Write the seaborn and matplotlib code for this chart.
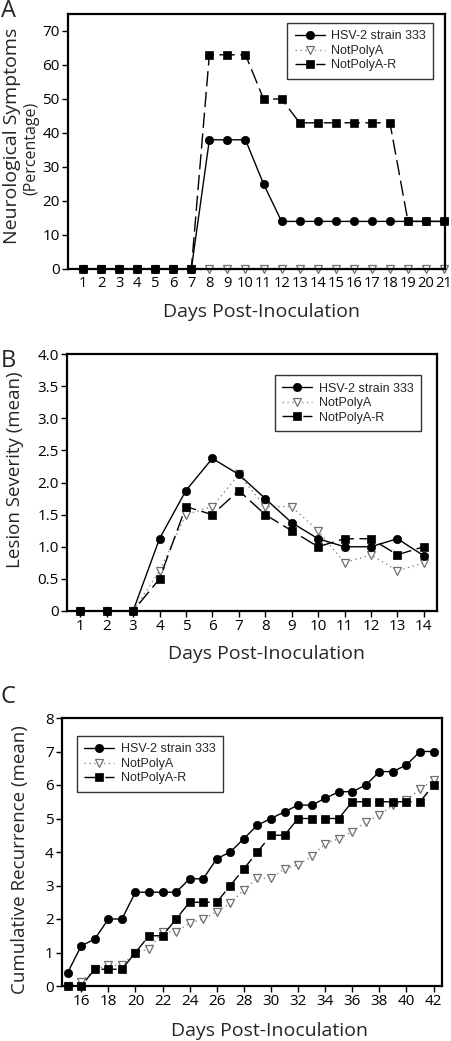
import matplotlib
matplotlib.use("Agg")
import matplotlib.pyplot as plt
import seaborn as sns

# ---- data ----
labels = ["HSV-2 strain 333", "NotPolyA", "NotPolyA-R"]

days_a = list(range(1, 22))
neuro_hsv = [0, 0, 0, 0, 0, 0, 0, 38, 38, 38, 25, 14, 14, 14, 14, 14, 14, 14, 14, 14, 14]
neuro_npa = [0] * 21
neuro_npar = [0, 0, 0, 0, 0, 0, 0, 63, 63, 63, 50, 50, 43, 43, 43, 43, 43, 43, 14, 14, 14]

days_b = list(range(1, 15))
lesion_hsv = [0, 0, 0, 1.125, 1.875, 2.375, 2.125, 1.75, 1.375, 1.125, 1.0, 1.0, 1.125, 0.86]
lesion_npa = [0, 0, 0, 0.625, 1.5, 1.625, 2.125, 1.625, 1.625, 1.25, 0.75, 0.875, 0.625, 0.75]
lesion_npar = [0, 0, 0, 0.5, 1.625, 1.5, 1.875, 1.5, 1.25, 1.0, 1.125, 1.125, 0.875, 1.0]
lesion_ticks = [0, 0.5, 1.0, 1.5, 2.0, 2.5, 3.0, 3.5, 4.0]
lesion_ticklabels = ["0", "0.5", "1.0", "1.5", "2.0", "2.5", "3.0", "3.5", "4.0"]

days_c = list(range(15, 43))
recur_hsv = [0.4, 1.2, 1.4, 2.0, 2.0, 2.8, 2.8, 2.8, 2.8, 3.2, 3.2, 3.8, 4.0, 4.4,
             4.8, 5.0, 5.2, 5.4, 5.4, 5.6, 5.8, 5.8, 6.0, 6.4, 6.4, 6.6, 7.0, 7.0]
recur_npa = [0, 0.12, 0.5, 0.62, 0.62, 1.0, 1.1, 1.62, 1.62, 1.87, 2.0, 2.22, 2.47, 2.87,
             3.22, 3.22, 3.49, 3.62, 3.87, 4.25, 4.4, 4.6, 4.9, 5.1, 5.4, 5.55, 5.87, 6.15]
recur_npar = [0, 0, 0.5, 0.5, 0.5, 1.0, 1.5, 1.5, 2.0, 2.5, 2.5, 2.5, 3.0, 3.5,
              4.0, 4.5, 4.5, 5.0, 5.0, 5.0, 5.0, 5.5, 5.5, 5.5, 5.5, 5.5, 5.5, 6.0]

sns.set_theme(style="ticks")
plt.rcParams["font.family"] = ["Open Sans", "DejaVu Sans"]

W, H = 451, 1041
fig = plt.figure(figsize=(W / 100, H / 100), dpi=100)


def box(l, t, r, b):
    return [l / W, 1 - b / H, (r - l) / W, (b - t) / H]


def draw(ax, x, hsv, npa, npar):
    sns.lineplot(x=x, y=npa, ax=ax, color="#8a8a8a", lw=1.0, linestyle=(0, (1, 2.5)),
                 marker="v", markersize=6.3, markerfacecolor="white",
                 markeredgecolor="#6e6e6e", markeredgewidth=0.9,
                 clip_on=False, errorbar=None, label=labels[1])
    sns.lineplot(x=x, y=npar, ax=ax, color="black", lw=1.0, linestyle=(0, (11, 4)),
                 marker="s", markersize=5.3, markerfacecolor="black",
                 markeredgecolor="black", markeredgewidth=0.5,
                 clip_on=False, errorbar=None, label=labels[2])
    sns.lineplot(x=x, y=hsv, ax=ax, color="black", lw=1.0,
                 marker="o", markersize=6.0, markerfacecolor="black",
                 markeredgecolor="black", markeredgewidth=0.5,
                 clip_on=False, errorbar=None, label=labels[0])
    for s in ax.spines.values():
        s.set_visible(True)
        s.set_linewidth(1.6)
        s.set_color("black")
    ax.tick_params(axis="both", direction="out", length=4, width=1, color="black",
                   labelsize=11, pad=2, labelcolor="black")
    ax.grid(False)
    ax.set_facecolor("white")
    h, l = ax.get_legend_handles_labels()
    order = [l.index(n) for n in labels]
    return [h[i] for i in order]


def legend(ax, handles, x, y):
    leg = ax.legend(handles, labels, loc="upper left", bbox_to_anchor=(x, y),
                    borderaxespad=0, frameon=True, fancybox=False, shadow=False,
                    prop={"family": "Liberation Sans", "size": 9},
                    handlelength=2.4, handletextpad=0.5, labelspacing=0.2,
                    borderpad=0.6)
    leg.get_frame().set_edgecolor("black")
    leg.get_frame().set_linewidth(1.0)


# ---- panel A ----
axA = fig.add_axes(box(68, 14, 445, 269))
hA = draw(axA, days_a, neuro_hsv, neuro_npa, neuro_npar)
axA.set_xlim(0.17, 21.05)
axA.set_ylim(0, 75)
axA.set_xticks(days_a)
axA.set_yticks(range(0, 71, 10))
axA.tick_params(axis="x", length=0, pad=5, labelsize=10.6)
axA.set_xlabel("Days Post-Inoculation", fontsize=14)
axA.xaxis.set_label_coords(0.512, -0.133)
axA.xaxis.label.set_va("top")
axA.set_ylabel("")
legend(axA, hA, 0.581, 0.965)
fig.text(12 / W, 1 - 136 / H, "Neurological Symptoms", rotation=90,
         ha="center", va="center", fontsize=14)
fig.text(31 / W, 1 - 148 / H, "(Percentage)", rotation=90,
         ha="center", va="center", fontsize=11.5)
fig.text(1 / W, 1 - 11 / H, "A", ha="left", va="center", fontsize=17)

# ---- panel B ----
axB = fig.add_axes(box(67, 354, 437, 611))
hB = draw(axB, days_b, lesion_hsv, lesion_npa, lesion_npar)
axB.set_xlim(0.5, 14.5)
axB.set_ylim(0, 4.0)
axB.set_xticks(days_b)
axB.set_yticks(lesion_ticks)
axB.set_yticklabels(lesion_ticklabels)
axB.set_xlabel("Days Post-Inoculation", fontsize=14)
axB.xaxis.set_label_coords(0.538, -0.132)
axB.xaxis.label.set_va("top")
axB.set_ylabel("")
legend(axB, hB, 0.562, 0.918)
fig.text(15 / W, 1 - 470 / H, "Lesion Severity (mean)", rotation=90,
         ha="center", va="center", fontsize=13.5)
fig.text(1 / W, 1 - 361 / H, "B", ha="left", va="center", fontsize=17)

# ---- panel C ----
axC = fig.add_axes(box(62, 718, 442, 986))
hC = draw(axC, days_c, recur_hsv, recur_npa, recur_npar)
axC.set_xlim(14.58, 42.62)
axC.set_ylim(0, 8)
axC.set_xticks(range(16, 43, 2))
axC.set_yticks(range(0, 9))
axC.set_xlabel("Days Post-Inoculation", fontsize=14)
axC.xaxis.set_label_coords(0.545, -0.133)
axC.xaxis.label.set_va("top")
axC.set_ylabel("")
legend(axC, hC, 0.039, 0.933)
fig.text(20 / W, 1 - 860 / H, "Cumulative Recurrence (mean)", rotation=90,
         ha="center", va="center", fontsize=13.5)
fig.text(1 / W, 1 - 697 / H, "C", ha="left", va="center", fontsize=17)

fig.savefig("out.png", dpi=100, facecolor="white")
